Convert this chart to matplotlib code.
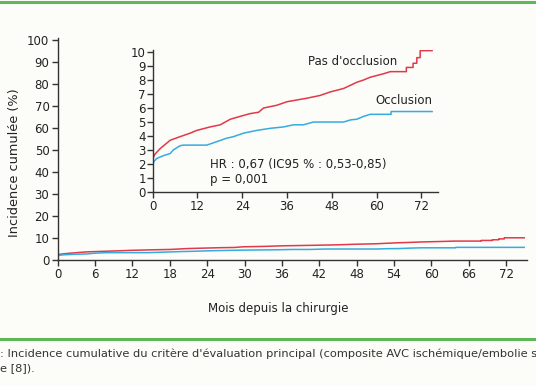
import matplotlib

matplotlib.use("Agg")
import matplotlib.pyplot as plt
from matplotlib.lines import Line2D

# cumulative incidence (%); repeated months are visible jumps
months_pas = [0, 0, 0.2, 0.6, 2.0, 3.8, 4.7, 7.3, 10.0, 11.8, 15.4, 18.1, 20.8, 23.4,
              26.1, 28.4, 29.7, 33.3, 36.0, 41.3, 44.9, 47.6, 51.2, 54.8, 56.5,
              58.3, 61.9, 63.7, 68.0, 68.0, 69.8, 69.8, 70.8, 70.8, 71.7, 71.7, 74.9]
inc_pas = [0, 2.3, 2.5, 2.7, 3.1, 3.5, 3.7, 3.95, 4.2, 4.4, 4.65, 4.8, 5.2, 5.4,
           5.6, 5.7, 6.0, 6.2, 6.45, 6.7, 6.9, 7.15, 7.4, 7.85, 8.0,
           8.2, 8.45, 8.6, 8.6, 8.9, 8.9, 9.2, 9.2, 9.6, 9.6, 10.1, 10.1]

months_occ = [0, 0, 0.4, 1.1, 2.9, 4.7, 5.5, 7.3, 8.2, 14.5, 17.2, 19.9, 21.6, 24.3,
              27.9, 31.5, 35.1, 37.7, 40.4, 43.1, 51.2, 53.0, 54.7, 56.5, 58.3,
              63.9, 63.9, 74.9]
inc_occ = [0, 2.0, 2.2, 2.4, 2.6, 2.75, 3.0, 3.3, 3.35, 3.35, 3.6, 3.85, 3.95, 4.2,
           4.4, 4.55, 4.65, 4.8, 4.8, 5.0, 5.0, 5.15, 5.2, 5.4, 5.55,
           5.55, 5.75, 5.75]

main_xticks = list(range(0, 73, 6))
main_yticks = list(range(0, 101, 10))
inset_xticks = list(range(0, 73, 12))
inset_yticks = list(range(0, 11))

RED = "#e2384a"
BLUE = "#35ace0"
AXIS = "#333333"
GREEN = "#5fb75a"
BG = "#fcfcf8"
TXT = "#222222"

plt.rcParams["font.family"] = ["DejaVu Sans"]
plt.rcParams["font.size"] = 8.5


def style_axes(ax):
    for side in ("top", "right"):
        ax.spines[side].set_visible(False)
    for side in ("left", "bottom"):
        ax.spines[side].set_color(AXIS)
        ax.spines[side].set_linewidth(1.0)
    ax.tick_params(direction="out", length=4, width=1.0, color=AXIS,
                   labelcolor=TXT, labelsize=8.5, pad=2)
    ax.set_facecolor("none")


fig = plt.figure(figsize=(5.36, 3.86), dpi=100, facecolor=BG)

ax = fig.add_axes([0.1077, 0.3264, 0.8749, 0.5756])
style_axes(ax)
ax.plot(months_pas, inc_pas, color=RED, lw=1.1)
ax.plot(months_occ, inc_occ, color=BLUE, lw=1.1)
ax.set_xlim(0, 75.3)
ax.set_ylim(0, 101)
ax.set_xticks(main_xticks)
ax.set_yticks(main_yticks)
ax.set_xlabel("Mois depuis la chirurgie", fontsize=8.5, color=TXT, labelpad=10)
ax.xaxis.set_label_coords(0.47, -0.19)
ax.set_ylabel("Incidence cumulée (%)", fontsize=9.3, color=TXT)
ax.yaxis.set_label_coords(-0.078, 0.44)

ins = fig.add_axes([0.2849, 0.5026, 0.5317, 0.368])
style_axes(ins)
ins.plot(months_pas, inc_pas, color=RED, lw=1.1)
ins.plot(months_occ, inc_occ, color=BLUE, lw=1.1)
ins.set_xlim(0, 76.4)
ins.set_ylim(0, 10.15)
ins.set_xticks(inset_xticks)
ins.set_yticks(inset_yticks)
ins.tick_params(axis="y", pad=1)

ins.text(41.6, 9.36, "Pas d'occlusion", fontsize=8.5, color=TXT, va="center", ha="left")
ins.text(75.0, 6.57, "Occlusion", fontsize=8.5, color=TXT, va="center", ha="right")
ins.text(15.4, 1.93, "HR : 0,67 (IC95 % : 0,53-0,85)", fontsize=8.5, color=TXT, va="center")
ins.text(15.4, 0.86, "p = 0,001", fontsize=8.5, color=TXT, va="center")

# green frame lines and caption
fig.add_artist(Line2D([0, 1], [1 - 2 / 386, 1 - 2 / 386], color=GREEN, lw=2.2))
fig.add_artist(Line2D([0, 1], [1 - 339 / 386, 1 - 339 / 386], color=GREEN, lw=2.2))
fig.text(0.0, 1 - 354 / 386, ": Incidence cumulative du critère d'évaluation principal "
         "(composite AVC ischémique/embolie s", fontsize=8.2, color="#333333", va="center")
fig.text(0.0, 1 - 368 / 386, "e [8]).", fontsize=8.2, color="#333333", va="center")

fig.savefig("out.png", dpi=100, facecolor=BG)
